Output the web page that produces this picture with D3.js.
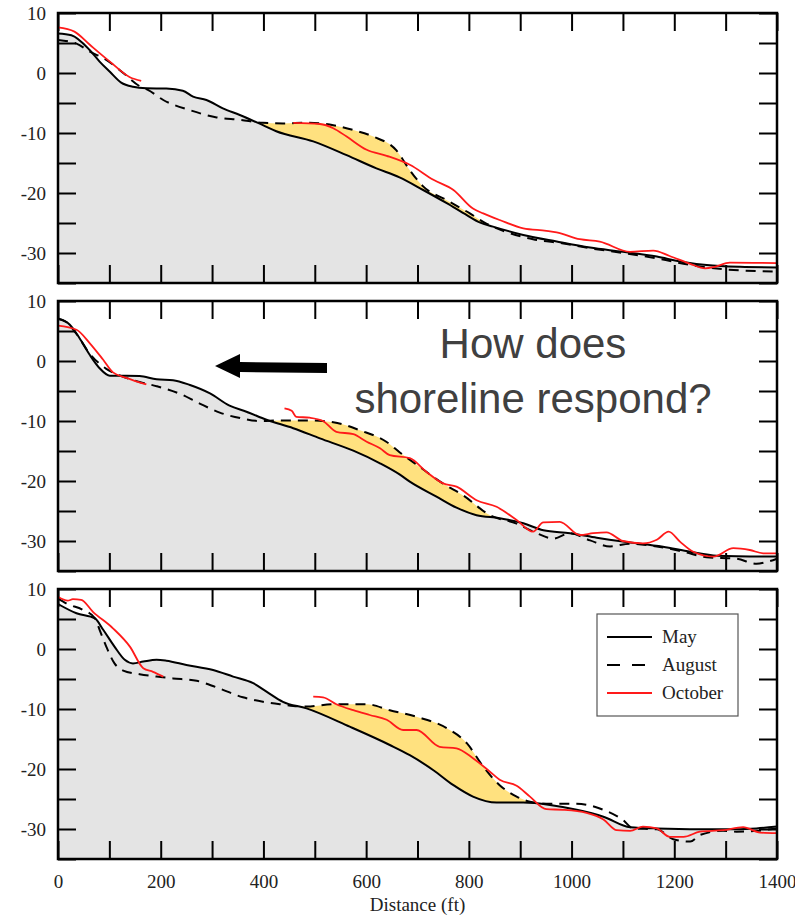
<!DOCTYPE html>
<html>
<head>
<meta charset="utf-8">
<script src="https://cdn.jsdelivr.net/npm/d3@7"></script>
<style>
  body { margin: 0; background: #fff; }
  svg { display: block; }
</style>
</head>
<body>
<div id="chart"></div>
<script>
// profile data, [distance ft, elevation ft]
var may1 = [[0,6.6],[26,6.3],[62,3.8],[81,1.9],[101,0.2],[123,-1.6],[146,-2.3],[172,-2.55],[211,-2.6],[243,-2.95],[263,-3.95],[289,-4.5],[321,-5.9],[354,-7],[399,-8.7],[425,-9.7],[497,-11.4],[562,-13.7],[620,-15.9],[665,-17.4],[711,-19.5],[757,-21.7],[796,-23.7],[821,-24.9],[847,-25.6],[906,-27],[971,-28.1],[1036,-29.1],[1100,-29.8],[1166,-30.6],[1211,-31.4],[1263,-32],[1328,-32.3],[1400,-32.4]];
var aug1 = [[0,5.5],[36,4.9],[62,3.55],[94,2.2],[127,0],[159,-2.2],[175,-2.8],[205,-4.5],[257,-6.2],[309,-7.4],[354,-7.8],[399,-8.3],[438,-8.4],[484,-8.3],[536,-8.7],[575,-9.5],[614,-10.6],[659,-12.9],[685,-16.2],[711,-18.9],[757,-21.2],[802,-23.4],[834,-25.1],[880,-26.7],[925,-27.7],[984,-28.4],[1036,-29.2],[1100,-30],[1166,-30.9],[1231,-32],[1295,-32.7],[1400,-33.1]];
var oct1a = [[0,7.6],[32,6.9],[62,4.7],[101,1.9],[140,-0.7],[162,-1.3]];
var oct1b = [[458,-8.3],[510,-8.5],[536,-9.2],[562,-10.6],[601,-12.8],[640,-13.8],[685,-15.3],[731,-17.8],[770,-19.5],[808,-22.6],[828,-23.4],[860,-24.5],[906,-25.9],[951,-26.3],[971,-26.55],[1016,-27.7],[1055,-28.1],[1114,-29.8],[1159,-29.6],[1191,-30.5],[1231,-31.8],[1260,-32.55],[1279,-32.3],[1308,-31.6],[1400,-31.7]];

var may2 = [[0,7.1],[23,6.05],[42,3.8],[62,1],[81,-1.2],[101,-2.45],[133,-2.45],[159,-2.5],[192,-3.05],[224,-3.2],[257,-4],[296,-5.4],[334,-7.45],[367,-8.45],[406,-9.8],[458,-11.2],[510,-12.9],[575,-14.95],[627,-17.05],[665,-18.9],[685,-20.1],[737,-22.6],[776,-24.45],[815,-25.7],[860,-26.2],[906,-27.05],[945,-28.2],[997,-28.7],[1049,-29.45],[1100,-30.1],[1178,-30.95],[1231,-31.8],[1283,-32.45],[1400,-32.6]];
var aug2 = [[0,7],[16,6.5],[36,4.5],[62,1.2],[94,-1.3],[120,-2.4],[159,-3.5],[192,-4.2],[237,-5.45],[276,-7.1],[315,-8.6],[360,-9.6],[393,-10],[432,-9.9],[484,-9.9],[536,-10.2],[588,-11.55],[640,-13.5],[665,-15.2],[705,-17.7],[750,-20.45],[789,-22.4],[841,-25.7],[893,-27.1],[932,-28.7],[964,-29.6],[997,-28.7],[1036,-29.9],[1075,-30.9],[1114,-30.45],[1166,-30.9],[1218,-31.8],[1263,-32.7],[1321,-32.95],[1360,-33.8],[1380,-33.5],[1400,-32.95]];
var oct2a = [[0,5.9],[36,5.2],[62,2.95],[88,0.2],[107,-1.9],[133,-2.8],[172,-3.9]];
var oct2b = [[441,-7.9],[455,-8.3],[464,-9.3],[490,-9.45],[516,-10],[542,-11.8],[575,-12.2],[601,-13.45],[627,-14.55],[646,-15.7],[685,-16.2],[717,-18.45],[750,-20.4],[776,-20.95],[815,-23.2],[854,-24.3],[893,-26.5],[925,-28.45],[945,-26.9],[977,-26.8],[1016,-29],[1042,-28.7],[1068,-28.55],[1100,-30],[1139,-30.4],[1166,-29.8],[1189,-28.45],[1211,-30.1],[1237,-31.8],[1276,-32.6],[1315,-31.2],[1347,-31.5],[1373,-32.05],[1400,-32.05]];

var may3 = [[0,7.5],[36,5.95],[72,5.1],[88,3.2],[110,0.4],[130,-1.8],[146,-2.4],[166,-2.1],[192,-1.8],[211,-1.95],[250,-2.65],[302,-3.5],[341,-4.6],[380,-5.7],[406,-7.1],[438,-8.8],[484,-9.9],[568,-12.95],[646,-16],[685,-17.7],[731,-20.2],[770,-22.7],[808,-24.6],[854,-25.6],[906,-25.6],[958,-26],[1010,-26.8],[1062,-27.95],[1114,-29.7],[1166,-29.9],[1295,-30.05],[1360,-29.9],[1400,-29.6]];
var aug3 = [[0,8.45],[16,7.6],[49,6.5],[72,5.1],[81,3.2],[94,0.4],[110,-2.4],[127,-3.6],[159,-4.2],[192,-4.6],[224,-4.9],[270,-5.3],[309,-6.4],[360,-8.05],[399,-8.8],[432,-9.2],[458,-9.5],[484,-9.6],[536,-9.2],[601,-9.2],[646,-10.2],[698,-11.3],[757,-13.2],[796,-15.7],[828,-19.6],[860,-22.7],[893,-24.6],[919,-25.45],[958,-25.8],[1010,-25.8],[1062,-26.8],[1100,-28.5],[1120,-29.9],[1166,-30.05],[1198,-31.7],[1231,-32.1],[1250,-31],[1295,-30.3],[1321,-30.45],[1360,-30.3],[1400,-29.9]];
var oct3a = [[0,8.7],[19,8.05],[29,8.3],[45,8.2],[68,6.2],[107,3.45],[140,0.4],[166,-3.2],[185,-3.8],[205,-4.6]];
var oct3b = [[497,-7.95],[516,-8.05],[542,-9.2],[575,-10.2],[607,-11],[640,-11.8],[672,-13.5],[698,-13.5],[743,-16.3],[776,-16.55],[808,-18.2],[841,-20.45],[860,-21.8],[893,-22.8],[919,-24.6],[951,-26.7],[984,-26.8],[1029,-27.3],[1062,-28.4],[1088,-30.2],[1114,-30.3],[1139,-29.6],[1166,-29.9],[1191,-31.3],[1218,-31.3],[1250,-30.45],[1295,-30.2],[1334,-29.7],[1367,-30.6],[1400,-30.7]];

// x-range where the August profile builds above May (yellow)
var gainRanges = [[390, 880], [405, 870], [470, 930]];

var xTicks = d3.range(0, 1401, 100);
var xLabels = [0, 200, 400, 600, 800, 1000, 1200, 1400];
var yTicks = d3.range(-35, 11, 5);
var yLabels = [10, 0, -10, -20, -30];
var legendNames = ['May', 'August', 'October'];

var panels = [
  {may: may1, aug: aug1, oct: [oct1a, oct1b], gain: gainRanges[0]},
  {may: may2, aug: aug2, oct: [oct2a, oct2b], gain: gainRanges[1]},
  {may: may3, aug: aug3, oct: [oct3a, oct3b], gain: gainRanges[2]}
];

var width = 795, height = 917;
var left = 58, right = 777, panelH = 270;
var tops = [13, 301, 589];
var serif = '"Liberation Serif", "Times New Roman", serif';

var svg = d3.select('#chart').append('svg')
    .attr('width', width)
    .attr('height', height);

var x = d3.scaleLinear().domain([0, 1400]).range([left, right]);

panels.forEach(function (p, i) {
  var top = tops[i];
  var y = d3.scaleLinear().domain([-35, 10]).range([top + panelH, top]);
  var g = svg.append('g');

  var line = d3.line()
      .x(function (d) { return x(d[0]); })
      .y(function (d) { return y(d[1]); })
      .curve(d3.curveMonotoneX);
  var area = d3.area()
      .x(function (d) { return x(d[0]); })
      .y0(y(-35))
      .y1(function (d) { return y(d[1]); })
      .curve(d3.curveMonotoneX);

  //clip yellow to the accretion zone
  svg.append('clipPath').attr('id', 'gain' + i)
    .append('rect')
      .attr('x', x(p.gain[0]))
      .attr('width', x(p.gain[1]) - x(p.gain[0]))
      .attr('y', top)
      .attr('height', panelH);

  g.append('path')
      .attr('d', area(p.aug))
      .attr('fill', '#ffe17f')
      .attr('clip-path', 'url(#gain' + i + ')');

  g.append('path')
      .attr('d', area(p.may))
      .attr('fill', '#e4e4e4');

  // axes, ticks pointing in
  var axL = g.append('g').attr('transform', 'translate(' + left + ',0)')
      .call(d3.axisLeft(y).tickValues(yTicks).tickSize(-18).tickPadding(12)
        .tickFormat(function (d) { return yLabels.indexOf(d) >= 0 ? d : ''; }));
  g.append('g').attr('transform', 'translate(' + right + ',0)')
      .call(d3.axisRight(y).tickValues(yTicks).tickSize(-18).tickFormat(''));
  g.append('g').attr('transform', 'translate(0,' + top + ')')
      .call(d3.axisTop(x).tickValues(xTicks).tickSize(-18).tickFormat(''));
  var axB = g.append('g').attr('transform', 'translate(0,' + (top + panelH) + ')')
      .call(d3.axisBottom(x).tickValues(xTicks).tickSize(-18).tickPadding(16)
        .tickFormat(function (d) { return (i === 2 && xLabels.indexOf(d) >= 0) ? d : ''; }));

  g.selectAll('.domain').remove();
  g.selectAll('.tick line').attr('stroke', '#000').attr('stroke-width', 2);
  g.selectAll('.tick text')
      .attr('font-family', serif)
      .attr('font-size', 19)
      .attr('fill', '#222');

  // profiles
  g.append('path')
      .attr('d', line(p.may))
      .attr('fill', 'none')
      .attr('stroke', '#000')
      .attr('stroke-width', 2);
  g.append('path')
      .attr('d', line(p.aug))
      .attr('fill', 'none')
      .attr('stroke', '#000')
      .attr('stroke-width', 2)
      .attr('stroke-dasharray', '10,7');
  p.oct.forEach(function (seg) {
    g.append('path')
        .attr('d', line(seg))
        .attr('fill', 'none')
        .attr('stroke', '#ff1a1a')
        .attr('stroke-width', 1.8);
  });

  g.append('rect')
      .attr('x', left)
      .attr('y', top)
      .attr('width', right - left)
      .attr('height', panelH)
      .attr('fill', 'none')
      .attr('stroke', '#000')
      .attr('stroke-width', 2.5);
});

svg.append('text')
    .attr('x', (left + right) / 2)
    .attr('y', 911)
    .attr('text-anchor', 'middle')
    .attr('font-family', serif)
    .attr('font-size', 19)
    .attr('fill', '#222')
    .text('Distance (ft)');

// legend
var lg = svg.append('g');
lg.append('rect')
    .attr('x', 597).attr('y', 614)
    .attr('width', 141).attr('height', 102)
    .attr('fill', '#fff')
    .attr('stroke', '#555')
    .attr('stroke-width', 1.2);
var legendStyle = [
  {stroke: '#000', dash: null},
  {stroke: '#000', dash: '13,12'},
  {stroke: '#ff1a1a', dash: null}
];
legendNames.forEach(function (name, k) {
  var ly = 637 + k * 28;
  lg.append('line')
      .attr('x1', 607).attr('x2', 652)
      .attr('y1', ly).attr('y2', ly)
      .attr('stroke', legendStyle[k].stroke)
      .attr('stroke-width', 2)
      .attr('stroke-dasharray', legendStyle[k].dash);
  lg.append('text')
      .attr('x', 662)
      .attr('y', ly + 6)
      .attr('font-family', serif)
      .attr('font-size', 19)
      .attr('fill', '#222')
      .text(name);
});

// annotation
svg.append('path')
    .attr('d', 'M215,366 L240,354 L240,362 L327,363 L327,373 L240,372 L240,378 Z')
    .attr('fill', '#000');

var note = svg.append('text')
    .attr('text-anchor', 'middle')
    .attr('font-family', '"Liberation Sans", Arial, sans-serif')
    .attr('font-size', 42)
    .attr('fill', '#404040');
note.append('tspan').attr('x', 533).attr('y', 358).text('How does');
note.append('tspan').attr('x', 533).attr('y', 413).text('shoreline respond?');
</script>
</body>
</html>
